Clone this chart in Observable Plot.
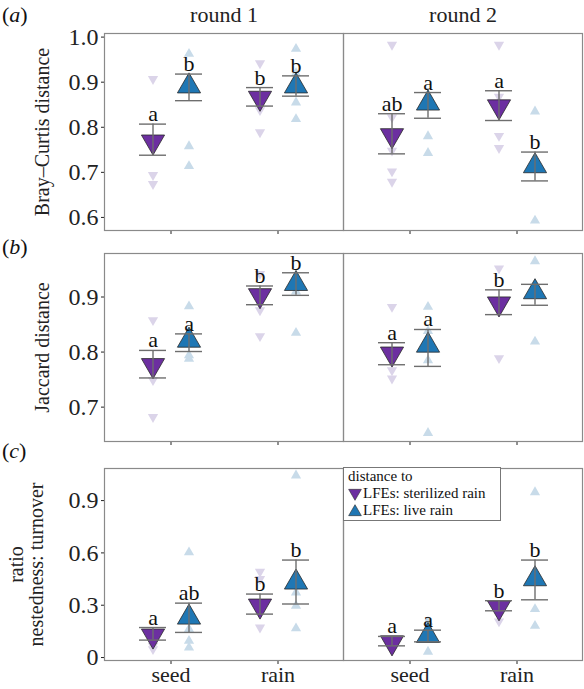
<!DOCTYPE html>
<html><head><meta charset="utf-8">
<script src="https://cdn.jsdelivr.net/npm/d3@7"></script>
<script src="https://cdn.jsdelivr.net/npm/@observablehq/plot@0.6"></script>
<style>
body{margin:0;background:#fff;}
#chart{position:relative;width:584px;height:689px;font-family:"Liberation Serif","Times New Roman",Times,"DejaVu Serif",serif;color:#111;overflow:hidden;}
.pl{position:absolute;left:0;}
.tag{position:absolute;left:2px;font-size:22px;line-height:22px;}
.legend{position:absolute;left:343px;top:467px;width:158px;height:54px;border:1.5px solid #777;background:#fff;box-sizing:border-box;font-size:15px;line-height:17px;padding:0 0 0 4px;}
.legend .row{display:flex;align-items:center;white-space:nowrap;}
.legend svg{margin-right:1px;}
</style></head>
<body><div id="chart"></div>
<script>
const rounds = ["round 1", "round 2"];
const sources = ["seed", "rain"];
const groups = ["sterilized", "live"];
const groupLabels = ["LFEs: sterilized rain", "LFEs: live rain"];
const mainColors = ["#6c2fa0", "#1f77b4"];
const lightColors = ["#dbd4e9", "#c8dbe9"];

// [round, source, group, mean, lower, upper, letter]
const braySummary = [
  ["round 1", "seed", "sterilized", 0.768, 0.738, 0.807, "a"],
  ["round 1", "seed", "live", 0.891, 0.859, 0.918, "b"],
  ["round 1", "rain", "sterilized", 0.865, 0.847, 0.888, "b"],
  ["round 1", "rain", "live", 0.891, 0.869, 0.914, "b"],
  ["round 2", "seed", "sterilized", 0.782, 0.741, 0.830, "ab"],
  ["round 2", "seed", "live", 0.853, 0.820, 0.877, "a"],
  ["round 2", "rain", "sterilized", 0.846, 0.815, 0.881, "a"],
  ["round 2", "rain", "live", 0.714, 0.681, 0.745, "b"]
];
const brayPoints = [
  ["round 1", "seed", "sterilized", [0.907, 0.694, 0.674]],
  ["round 1", "seed", "live", [0.963, 0.758, 0.714]],
  ["round 1", "rain", "sterilized", [0.942, 0.838, 0.789]],
  ["round 1", "rain", "live", [0.974, 0.920, 0.855, 0.818]],
  ["round 2", "seed", "sterilized", [0.983, 0.822, 0.748, 0.702, 0.679]],
  ["round 2", "seed", "live", [0.780, 0.743]],
  ["round 2", "rain", "sterilized", [0.983, 0.868, 0.781, 0.754]],
  ["round 2", "rain", "live", [0.835, 0.593]]
];

const jaccardSummary = [
  ["round 1", "seed", "sterilized", 0.776, 0.753, 0.803, "a"],
  ["round 1", "seed", "live", 0.821, 0.801, 0.833, "a"],
  ["round 1", "rain", "sterilized", 0.903, 0.886, 0.920, "b"],
  ["round 1", "rain", "live", 0.924, 0.903, 0.944, "b"],
  ["round 2", "seed", "sterilized", 0.797, 0.777, 0.817, "a"],
  ["round 2", "seed", "live", 0.812, 0.774, 0.841, "a"],
  ["round 2", "rain", "sterilized", 0.888, 0.868, 0.913, "b"],
  ["round 2", "rain", "live", 0.909, 0.885, 0.923, ""]
];
const jaccardPoints = [
  ["round 1", "seed", "sterilized", [0.858, 0.749, 0.682]],
  ["round 1", "seed", "live", [0.883, 0.794, 0.788]],
  ["round 1", "rain", "sterilized", [0.942, 0.876, 0.829]],
  ["round 1", "rain", "live", [0.910, 0.835]],
  ["round 2", "seed", "sterilized", [0.882, 0.767, 0.752]],
  ["round 2", "seed", "live", [0.882, 0.838, 0.785, 0.653]],
  ["round 2", "rain", "sterilized", [0.952, 0.789]],
  ["round 2", "rain", "live", [0.965, 0.819]]
];

const ratioSummary = [
  ["round 1", "seed", "sterilized", 0.125, 0.100, 0.172, "a"],
  ["round 1", "seed", "live", 0.230, 0.144, 0.312, "ab"],
  ["round 1", "rain", "sterilized", 0.297, 0.249, 0.364, "b"],
  ["round 1", "rain", "live", 0.431, 0.307, 0.559, "b"],
  ["round 2", "seed", "sterilized", 0.086, 0.067, 0.121, "a"],
  ["round 2", "seed", "live", 0.125, 0.090, 0.157, "a"],
  ["round 2", "rain", "sterilized", 0.287, 0.268, 0.326, "b"],
  ["round 2", "rain", "live", 0.450, 0.331, 0.559, "b"]
];
const ratioPoints = [
  ["round 1", "seed", "sterilized", [0.067, 0.048]],
  ["round 1", "seed", "live", [0.603, 0.163, 0.096, 0.057]],
  ["round 1", "rain", "sterilized", [0.492, 0.450, 0.172]],
  ["round 1", "rain", "live", [1.044, 0.373, 0.297, 0.167]],
  ["round 2", "seed", "sterilized", [0.080]],
  ["round 2", "seed", "live", [0.205, 0.033]],
  ["round 2", "rain", "sterilized", [0.207, 0.250]],
  ["round 2", "rain", "live", [0.948, 0.278, 0.182]]
];

const brayTicks = [0.6, 0.7, 0.8, 0.9, 1.0];
const jaccardTicks = [0.7, 0.8, 0.9];
const ratioTicks = [0, 0.3, 0.6, 0.9];

const SERIF = '"Liberation Serif", "Times New Roman", Times, "DejaVu Serif", serif';

function makePanel(cfg) {
  const sum = cfg.summary.map(([round, source, group, mean, lo, hi, letter]) => ({round, source, group, mean, lo, hi, letter}));
  const pts = cfg.points.flatMap(([round, source, group, vals]) => vals.map(v => ({round, source, group, v})));
  const marks = [
    Plot.axisY({ticks: cfg.ticks, tickFormat: cfg.fmt, tickSize: 3, tickPadding: 3, fontSize: 24, label: null}),
    Plot.axisY({ticks: [], label: cfg.label, labelAnchor: "center", labelOffset: cfg.labelOffset, labelArrow: "none", fontSize: 20}),
    Plot.axisX({tickSize: 4, tickPadding: 2, fontSize: 22, label: null, tickFormat: cfg.xLabels ? (d => d) : (() => "")})
  ];
  if (cfg.fxAxis) marks.push(Plot.axisFx({anchor: "top", tickSize: 0, tickPadding: 12, fontSize: 22, label: null}));
  groups.forEach((g, i) => {
    const dx = i === 0 ? -18 : 18;
    marks.push(Plot.dot(pts.filter(d => d.group === g), {
      fx: "round", x: "source", y: "v", symbol: "triangle", rotate: i === 0 ? 180 : 0,
      r: 3.8, fill: lightColors[i], dx
    }));
  });
  groups.forEach((g, i) => {
    const s = sum.filter(d => d.group === g);
    const dx = i === 0 ? -18 : 18;
    const line = {stroke: "#6e6e6e", strokeWidth: 1.4};
    marks.push(
      Plot.dot(s, {fx: "round", x: "source", y: "mean", symbol: "triangle", rotate: i === 0 ? 180 : 0,
        r: 8.6, fill: mainColors[i], stroke: "#2a2a2a", strokeWidth: 0.8, dx}),
      Plot.ruleX(s, {fx: "round", x: "source", y1: "lo", y2: "hi", dx, ...line}),
      Plot.tickY(s, {fx: "round", x: "source", y: "lo", dx, ...line}),
      Plot.tickY(s, {fx: "round", x: "source", y: "hi", dx, ...line}),
      Plot.text(s, {fx: "round", x: "source", y: "hi", text: "letter", dx, dy: -3, lineAnchor: "bottom",
        fontSize: 22, fill: "#111", fontFamily: SERIF})
    );
  });
  marks.push(Plot.frame({stroke: "#8a8a8a", strokeWidth: 1.2}));
  return Plot.plot({
    width: 584, height: cfg.height,
    marginLeft: 103, marginRight: 2, marginTop: cfg.mt, marginBottom: cfg.mb,
    style: {fontFamily: SERIF, fontSize: "20px", color: "#222", background: "transparent", overflow: "visible"},
    fx: {domain: rounds, padding: 0, label: null, axis: null},
    x: {type: "band", domain: sources, paddingInner: 0.75, paddingOuter: 0.49, label: null},
    y: {domain: cfg.domain, label: null},
    marks
  });
}

const chart = document.getElementById("chart");
function place(node, top) { node.classList.add("pl"); node.style.top = top + "px"; chart.appendChild(node); }

place(makePanel({summary: braySummary, points: brayPoints, domain: [0.571, 1.008], ticks: brayTicks,
  fmt: d => d.toFixed(1), height: 240, mt: 33, mb: 10, label: "Bray–Curtis distance", labelOffset: 70, fxAxis: true, xLabels: false}), 0);
place(makePanel({summary: jaccardSummary, points: jaccardPoints, domain: [0.6376, 0.979], ticks: jaccardTicks,
  fmt: d => d.toFixed(1), height: 215, mt: 13, mb: 14, label: "Jaccard distance", labelOffset: 70, fxAxis: false, xLabels: false}), 240);
place(makePanel({summary: ratioSummary, points: ratioPoints, domain: [-0.017, 1.084], ticks: ratioTicks,
  fmt: d => d === 0 ? "0" : d.toFixed(1), height: 234, mt: 13, mb: 29, label: "ratio\nnestedness: turnover", labelOffset: 96, fxAxis: false, xLabels: true}), 455);

[["a", 4], ["b", 236], ["c", 440]].forEach(([t, top]) => {
  const el = document.createElement("div");
  el.className = "tag"; el.style.top = top + "px";
  el.innerHTML = "(<i>" + t + "</i>)";
  chart.appendChild(el);
});

const legend = document.createElement("div");
legend.className = "legend";
const title = document.createElement("div");
title.textContent = "distance to";
legend.appendChild(title);
groupLabels.forEach((lab, i) => {
  const row = document.createElement("div");
  row.className = "row";
  const svg = d3.create("svg").attr("width", 14).attr("height", 14);
  svg.append("path").attr("d", d3.symbol(d3.symbolTriangle, 70)())
    .attr("transform", `translate(7,${i === 0 ? 6 : 8}) rotate(${i === 0 ? 180 : 0})`)
    .attr("fill", mainColors[i]).attr("stroke", "#2a2a2a").attr("stroke-width", 0.6);
  row.appendChild(svg.node());
  const span = document.createElement("span");
  span.textContent = lab;
  row.appendChild(span);
  legend.appendChild(row);
});
chart.appendChild(legend);
</script>
</body></html>
